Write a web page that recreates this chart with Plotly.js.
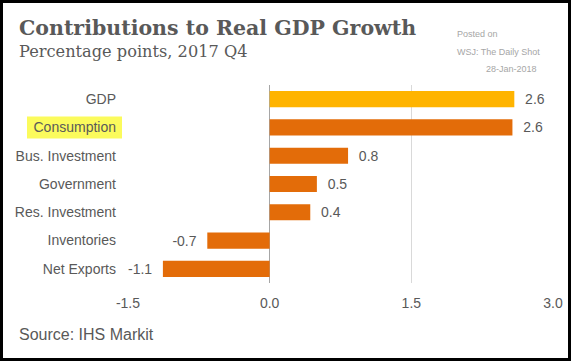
<!DOCTYPE html>
<html>
<head>
<meta charset="utf-8">
<script src="https://cdn.plot.ly/plotly-3.0.1.min.js"></script>
<style>
  html, body { margin: 0; padding: 0; background: #fff; }
  #wrap { position: relative; width: 571px; height: 361px; }
  #chart { position: absolute; left: 0; top: 0; width: 571px; height: 361px; }
  #frame { position: absolute; left: 0; top: 0; width: 571px; height: 361px; box-sizing: border-box; border: 3px solid #000; pointer-events: none; }
</style>
</head>
<body>
<div id="wrap"><div id="chart"></div><div id="frame"></div></div>
<script>
// ---- data ----
const categories = ["GDP", "Consumption", "Bus. Investment", "Government", "Res. Investment", "Inventories", "Net Exports"];
const values = [2.59, 2.57, 0.83, 0.50, 0.43, -0.66, -1.13];
const barColors = ["#ffb400", "#e36c09", "#e36c09", "#e36c09", "#e36c09", "#e36c09", "#e36c09"];
const xTickVals = [-1.5, 0.0, 1.5, 3.0];
const highlighted = "Consumption";

const NB = "\u00a0\u00a0";
const labels = values.map(v => v >= 0 ? NB + v.toFixed(1) : v.toFixed(1) + NB);

// plot area geometry (pixels)
const W = 571, H = 361;
const M = { l: 127, r: 17, t: 85, b: 78 };
const PW = W - M.l - M.r, PH = H - M.t - M.b;
const px = x => (x - M.l) / PW;
const py = y => (H - M.b - y) / PH;

const grey = "#595959";
const sans = "Liberation Sans, Arial, sans-serif";
const serif = "DejaVu Serif, Georgia, serif";

const trace = {
  type: "bar",
  orientation: "h",
  y: categories,
  x: values,
  marker: { color: barColors },
  text: labels,
  textposition: "outside",
  constraintext: "none",
  cliponaxis: false,
  textfont: { family: sans, size: 14, color: grey },
  hoverinfo: "none"
};

const hi = categories.indexOf(highlighted);

const layout = {
  width: W, height: H,
  margin: M,
  paper_bgcolor: "#ffffff",
  plot_bgcolor: "rgba(0,0,0,0)",
  showlegend: false,
  bargap: 0.43,
  font: { family: sans, size: 14, color: grey },
  xaxis: {
    range: [-1.51, 3.01],
    tickvals: xTickVals,
    ticktext: xTickVals.map(v => v.toFixed(1)),
    showgrid: true,
    gridcolor: "#d9d9d9",
    gridwidth: 1,
    zeroline: true,
    zerolinecolor: "#a6a6a6",
    zerolinewidth: 1,
    showline: false,
    ticks: "",
    ticklabelstandoff: 10,
    tickfont: { family: sans, size: 14, color: grey },
    fixedrange: true
  },
  yaxis: {
    type: "category",
    autorange: "reversed",
    showgrid: false,
    zeroline: false,
    showline: false,
    ticks: "",
    ticklabelstandoff: 10,
    tickfont: { family: sans, size: 14, color: grey },
    fixedrange: true
  },
  shapes: [
    { type: "rect", layer: "below", xref: "paper", yref: "y",
      x0: px(27), x1: px(122), y0: hi - 0.39, y1: hi + 0.39,
      fillcolor: "#fbfb5c", line: { width: 0 } }
  ],
  annotations: [
    { text: "<b>Contributions to Real GDP Growth</b>", xref: "paper", yref: "paper",
      x: px(17), y: py(28), xanchor: "left", yanchor: "middle", showarrow: false,
      font: { family: serif, size: 20.5, color: grey } },
    { text: "Percentage points, 2017 Q4", xref: "paper", yref: "paper",
      x: px(17), y: py(52), xanchor: "left", yanchor: "middle", showarrow: false,
      font: { family: serif, size: 16.2, color: grey } },
    { text: "Posted on", xref: "paper", yref: "paper",
      x: px(455), y: py(34), xanchor: "left", yanchor: "middle", showarrow: false,
      font: { family: sans, size: 9, color: "#a6a6a6" } },
    { text: "WSJ: The Daily Shot", xref: "paper", yref: "paper",
      x: px(455), y: py(52), xanchor: "left", yanchor: "middle", showarrow: false,
      font: { family: sans, size: 9, color: "#a6a6a6" } },
    { text: "28-Jan-2018", xref: "paper", yref: "paper",
      x: px(539), y: py(69), xanchor: "right", yanchor: "middle", showarrow: false,
      font: { family: sans, size: 9, color: "#a6a6a6" } },
    { text: "Source: IHS Markit", xref: "paper", yref: "paper",
      x: px(17), y: py(334), xanchor: "left", yanchor: "middle", showarrow: false,
      font: { family: sans, size: 16, color: grey } }
  ]
};

Plotly.newPlot("chart", [trace], layout, { displayModeBar: false, staticPlot: true });
</script>
</body>
</html>
